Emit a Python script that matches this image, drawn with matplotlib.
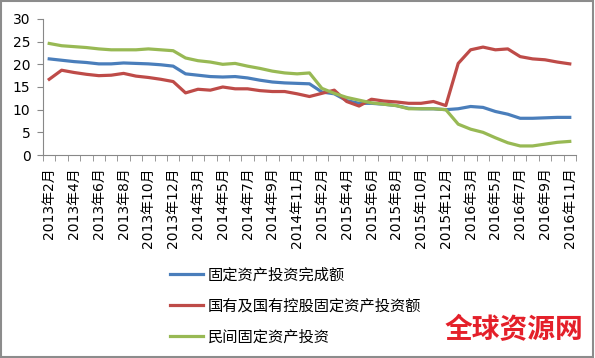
import numpy as np
import matplotlib.pyplot as plt
from matplotlib.patches import Rectangle

plt.rcParams['font.family'] = ['DejaVu Sans', 'Noto Sans CJK SC']

# months: Feb-Dec each year (Jan merged into Feb), 2016 up to Nov
months = (
    [f'2013年{m}月' for m in range(2, 13)]
    + [f'2014年{m}月' for m in range(2, 13)]
    + [f'2015年{m}月' for m in range(2, 13)]
    + [f'2016年{m}月' for m in range(2, 12)]
)

total = [21.2, 20.9, 20.6, 20.4, 20.1, 20.1, 20.3, 20.2, 20.1, 19.9, 19.6,
         17.9, 17.6, 17.3, 17.2, 17.3, 17.0, 16.5, 16.1, 15.9, 15.8, 15.7,
         13.9, 13.5, 12.0, 11.4, 11.4, 11.2, 10.9, 10.3, 10.2, 10.2, 10.0,
         10.2, 10.7, 10.5, 9.6, 9.0, 8.1, 8.1, 8.2, 8.3, 8.3]

state = [16.7, 18.7, 18.2, 17.8, 17.5, 17.6, 18.0, 17.4, 17.1, 16.7, 16.2,
         13.7, 14.5, 14.3, 15.0, 14.6, 14.6, 14.2, 14.0, 14.0, 13.5, 12.9,
         13.6, 14.3, 11.8, 10.8, 12.3, 11.9, 11.7, 11.4, 11.4, 11.8, 10.9,
         20.2, 23.2, 23.8, 23.2, 23.4, 21.7, 21.2, 21.0, 20.5, 20.1]

private = [24.6, 24.1, 23.9, 23.7, 23.4, 23.2, 23.2, 23.2, 23.4, 23.2, 23.0,
           21.4, 20.8, 20.5, 20.0, 20.2, 19.6, 19.1, 18.5, 18.1, 17.9, 18.1,
           14.7, 13.6, 12.7, 12.1, 11.5, 11.2, 10.9, 10.2, 10.2, 10.2, 10.0,
           6.8, 5.7, 5.0, 3.8, 2.7, 2.0, 2.0, 2.4, 2.8, 3.0]

labels = ['固定资产投资完成额', '国有及国有控股固定资产投资额', '民间固定资产投资']
colors = ['#4A7EBB', '#BE4B48', '#98B954']

x = np.arange(len(months))

fig = plt.figure(figsize=(5.95, 3.58), dpi=100)
ax = fig.add_axes([0.0723, 0.567, 0.8957, 0.38])

for series, lab, col in zip([total, state, private], labels, colors):
    ax.plot(x, series, color=col, linewidth=2.3, label=lab, solid_joinstyle='round')

ax.set_xlim(-0.5, len(months) - 0.5)
ax.set_ylim(0, 30)
ax.set_yticks(np.arange(0, 31, 5))
ax.tick_params(axis='y', length=4, color='#888888', labelsize=10, pad=5)

ax.set_xticks(x[::2])
ax.set_xticklabels(months[::2], rotation=90, fontsize=10)
ax.set_xticks(np.arange(-0.5, len(months)), minor=True)
ax.tick_params(axis='x', which='major', length=0, pad=9)
ax.tick_params(axis='x', which='minor', length=4, color='#888888')

for s in ['top', 'right']:
    ax.spines[s].set_visible(False)
for s in ['left', 'bottom']:
    ax.spines[s].set_color('#888888')

fig.legend(loc='upper left', bbox_to_anchor=(0.262, 0.292), frameon=False,
           fontsize=11, handlelength=2.2, handletextpad=0.3, labelspacing=1.05)

fig.text(0.98, 0.078, '全球资源网', color='#E4202A', fontsize=20,
         fontweight='bold', family='Noto Sans CJK SC', ha='right', va='center')

fig.add_artist(Rectangle((0.002, 0.003), 0.995, 0.994, transform=fig.transFigure,
                         fill=False, edgecolor='#8C8C8C', linewidth=1.5))

fig.savefig('out.png', dpi=100)
